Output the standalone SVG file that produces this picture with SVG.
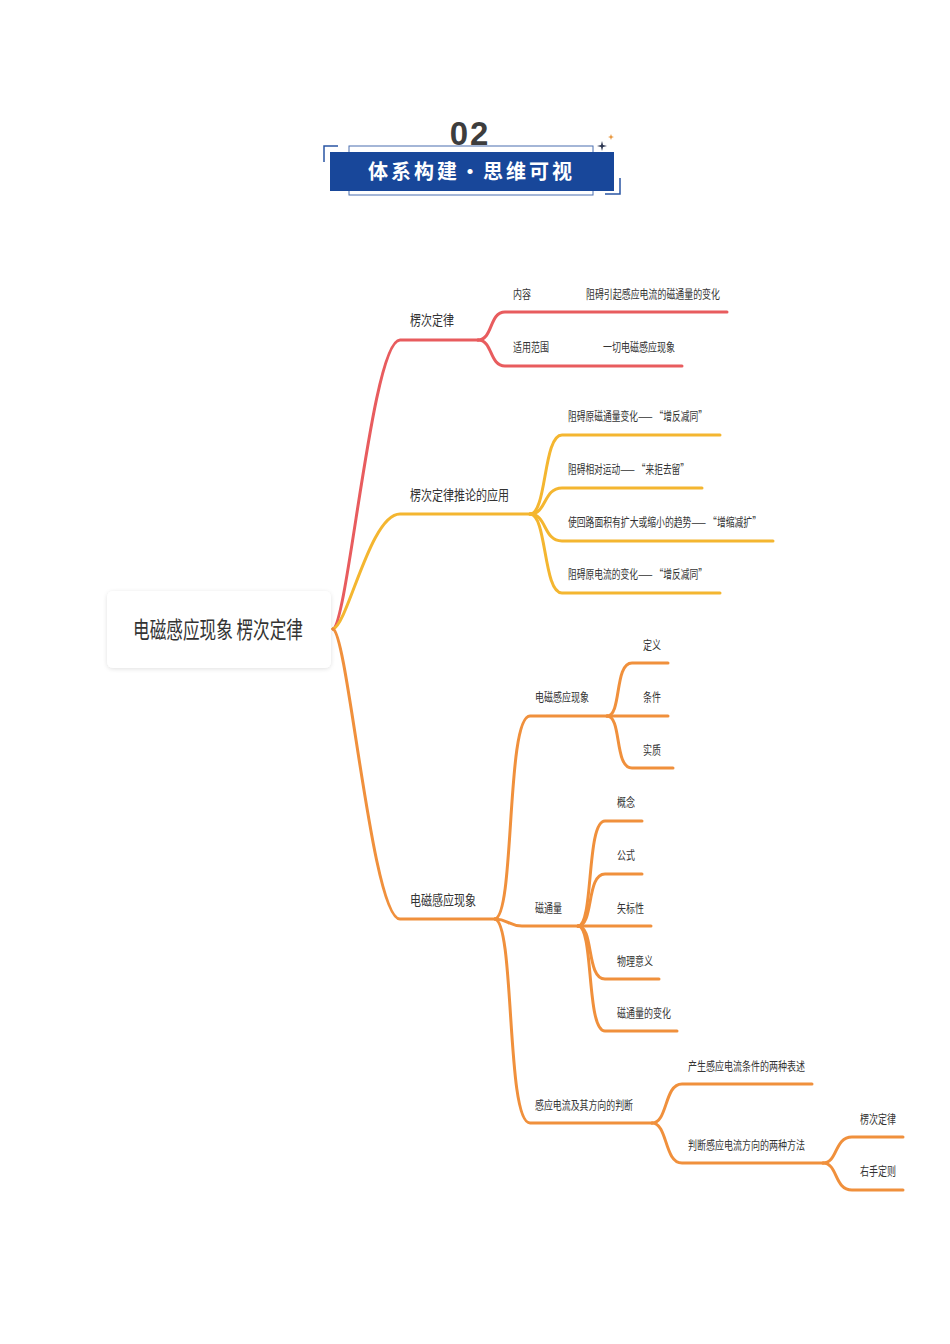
<svg xmlns="http://www.w3.org/2000/svg" width="950" height="1344" viewBox="0 0 950 1344">
<style>
text{font-family:"Noto Sans CJK SC","Noto Sans",sans-serif;fill:#333}
.l1{font-size:14px}
.l2{font-size:12px}
.c{fill:none;stroke-width:3;stroke-linecap:round;stroke-linejoin:round}
.r{stroke:#E85C5E}
.y{stroke:#F4B630}
.o{stroke:#F0903C}
</style>
<defs>
<filter id="sh" x="-10%" y="-20%" width="120%" height="140%">
<feDropShadow dx="0" dy="1" stdDeviation="2" flood-color="#000" flood-opacity="0.12"/>
</filter>
</defs>
<rect width="950" height="1344" fill="#fff"/>
<g id="header">
<text x="470" y="145" text-anchor="middle" style="font-family:'Liberation Sans','DejaVu Sans',sans-serif;font-size:33px;font-weight:bold;fill:#3d3d3d;letter-spacing:2px">02</text>
<rect x="349" y="146" width="244" height="49" fill="none" stroke="#4a6fb0" stroke-width="1"/>
<path d="M324,162 V146 H338" fill="none" stroke="#2a56a4" stroke-width="1.5"/>
<path d="M605,194 H620 V178" fill="none" stroke="#2a56a4" stroke-width="1.5"/>
<rect x="330" y="152" width="284" height="39" fill="#18479A"/>
<text x="470" y="179" text-anchor="middle" textLength="204" lengthAdjust="spacing" style="font-size:20px;font-weight:bold;fill:#fff">体系构建・思维可视</text>
<path d="M602,141 L603,145 L607,146 L603,147 L602,151 L601,147 L597,146 L601,145 Z" fill="#2b3550"/>
<path d="M611,134 L611.8,136.2 L614,137 L611.8,137.8 L611,140 L610.2,137.8 L608,137 L610.2,136.2 Z" fill="#E8953A"/>
</g>
<g id="connectors">
<path class="c r" d="M333,629 C348,624 372,340 400,340 L478,340"/>
<path class="c r" d="M478,340 C493,340 489,312 505,312 L727,312"/>
<path class="c r" d="M478,340 C493,340 489,366 505,366 L682,366"/>
<path class="c y" d="M333,629 C348,625 370,514 400,514 L530,514"/>
<path class="c y" d="M530,514 C547,514 543,435 562,435 L720,435"/>
<path class="c y" d="M530,514 C547,514 543,488 562,488 L702,488"/>
<path class="c y" d="M530,514 C547,514 543,541 562,541 L773,541"/>
<path class="c y" d="M530,514 C547,514 543,593 562,593 L720,593"/>
<path class="c o" d="M333,629 C348,634 372,919 400,919 L495,919"/>
<path class="c o" d="M495,919 C515,915 506,716 530,716 L607,716"/>
<path class="c o" d="M607,716 C622,716 614,663 632,663 L668,663"/>
<path class="c o" d="M607,716 L668,716"/>
<path class="c o" d="M607,716 C622,716 614,768 632,768 L673,768"/>
<path class="c o" d="M495,919 C508,919 508,926 522,926 L578,926"/>
<path class="c o" d="M578,926 C594,926 586,821 605,821 L642,821"/>
<path class="c o" d="M578,926 C594,926 586,874 605,874 L642,874"/>
<path class="c o" d="M578,926 L651,926"/>
<path class="c o" d="M578,926 C594,926 586,979 605,979 L659,979"/>
<path class="c o" d="M578,926 C594,926 586,1031 605,1031 L677,1031"/>
<path class="c o" d="M495,919 C515,923 506,1123 530,1123 L652,1123"/>
<path class="c o" d="M652,1123 C668,1123 664,1084 682,1084 L812,1084"/>
<path class="c o" d="M652,1123 C668,1123 664,1163 682,1163 L823,1163"/>
<path class="c o" d="M823,1163 C838,1163 834,1137 852,1137 L903,1137"/>
<path class="c o" d="M823,1163 C838,1163 834,1190 852,1190 L903,1190"/>
</g>
<g id="root">
<rect x="107" y="591" width="224" height="77" rx="6" fill="#fff" filter="url(#sh)"/>
<text x="133" y="638" style="font-size:23px" textLength="170" lengthAdjust="spacingAndGlyphs">电磁感应现象 楞次定律</text>
</g>
<g id="n-lenz">
<text class="l1" x="410" y="325" textLength="44" lengthAdjust="spacingAndGlyphs">楞次定律</text>
</g>
<g id="n-content">
<text class="l2" x="513" y="299" textLength="18" lengthAdjust="spacingAndGlyphs">内容</text>
<text class="l2" x="586" y="299" textLength="134" lengthAdjust="spacingAndGlyphs">阻碍引起感应电流的磁通量的变化</text>
</g>
<g id="n-scope">
<text class="l2" x="513" y="352" textLength="36" lengthAdjust="spacingAndGlyphs">适用范围</text>
<text class="l2" x="603" y="352" textLength="72" lengthAdjust="spacingAndGlyphs">一切电磁感应现象</text>
</g>
<g id="n-app">
<text class="l1" x="410" y="500" textLength="99" lengthAdjust="spacingAndGlyphs">楞次定律推论的应用</text>
</g>
<g id="n-app1"><text class="l2" x="568" y="421" textLength="139" lengthAdjust="spacingAndGlyphs">阻碍原磁通量变化—— “增反减同”</text></g>
<g id="n-app2"><text class="l2" x="568" y="474" textLength="121" lengthAdjust="spacingAndGlyphs">阻碍相对运动—— “来拒去留”</text></g>
<g id="n-app3"><text class="l2" x="568" y="527" textLength="193" lengthAdjust="spacingAndGlyphs">使回路面积有扩大或缩小的趋势—— “增缩减扩”</text></g>
<g id="n-app4"><text class="l2" x="568" y="579" textLength="139" lengthAdjust="spacingAndGlyphs">阻碍原电流的变化—— “增反减同”</text></g>
<g id="n-emi">
<text class="l1" x="410" y="905" textLength="66" lengthAdjust="spacingAndGlyphs">电磁感应现象</text>
</g>
<g id="n-emi-sub"><text class="l2" x="535" y="702" textLength="54" lengthAdjust="spacingAndGlyphs">电磁感应现象</text></g>
<g id="n-def"><text class="l2" x="643" y="650" textLength="18" lengthAdjust="spacingAndGlyphs">定义</text></g>
<g id="n-cond"><text class="l2" x="643" y="702" textLength="18" lengthAdjust="spacingAndGlyphs">条件</text></g>
<g id="n-ess"><text class="l2" x="643" y="755" textLength="18" lengthAdjust="spacingAndGlyphs">实质</text></g>
<g id="n-flux"><text class="l2" x="535" y="913" textLength="27" lengthAdjust="spacingAndGlyphs">磁通量</text></g>
<g id="n-f1"><text class="l2" x="617" y="807" textLength="18" lengthAdjust="spacingAndGlyphs">概念</text></g>
<g id="n-f2"><text class="l2" x="617" y="860" textLength="18" lengthAdjust="spacingAndGlyphs">公式</text></g>
<g id="n-f3"><text class="l2" x="617" y="913" textLength="27" lengthAdjust="spacingAndGlyphs">矢标性</text></g>
<g id="n-f4"><text class="l2" x="617" y="966" textLength="36" lengthAdjust="spacingAndGlyphs">物理意义</text></g>
<g id="n-f5"><text class="l2" x="617" y="1018" textLength="54" lengthAdjust="spacingAndGlyphs">磁通量的变化</text></g>
<g id="n-ic"><text class="l2" x="535" y="1110" textLength="98" lengthAdjust="spacingAndGlyphs">感应电流及其方向的判断</text></g>
<g id="n-ic1"><text class="l2" x="688" y="1071" textLength="117" lengthAdjust="spacingAndGlyphs">产生感应电流条件的两种表述</text></g>
<g id="n-ic2"><text class="l2" x="688" y="1150" textLength="117" lengthAdjust="spacingAndGlyphs">判断感应电流方向的两种方法</text></g>
<g id="n-m1"><text class="l2" x="860" y="1124" textLength="36" lengthAdjust="spacingAndGlyphs">楞次定律</text></g>
<g id="n-m2"><text class="l2" x="860" y="1176" textLength="36" lengthAdjust="spacingAndGlyphs">右手定则</text></g>
</svg>
